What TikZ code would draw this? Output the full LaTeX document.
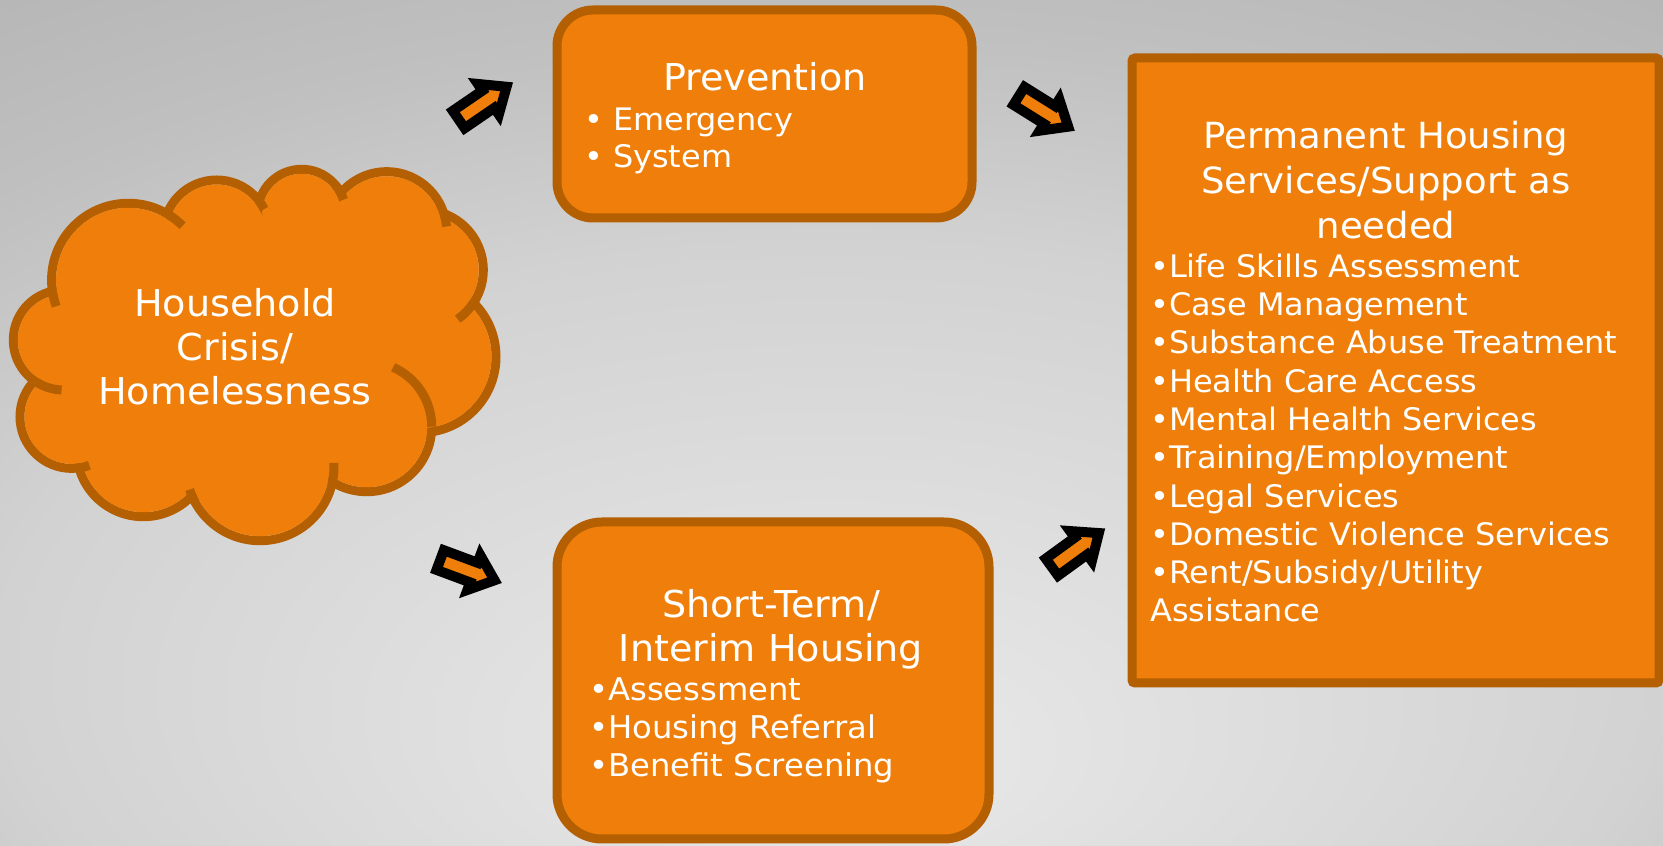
\documentclass[tikz,border=0pt]{standalone}
\usepackage{fontspec}
\setmainfont{DejaVu Sans}[FakeStretch=1.03]
\usetikzlibrary{shapes.arrows}
\definecolor{boxorange}{RGB}{239,127,10}
\definecolor{boxedge}{RGB}{180,95,2}
\definecolor{bgA}{RGB}{234,234,234}
\definecolor{bgB}{RGB}{210,210,210}
\definecolor{bgC}{RGB}{192,192,192}
\definecolor{bgD}{RGB}{172,172,172}
\pgfdeclareradialshading{bgshade}{\pgfpoint{0bp}{-21bp}}{color(0bp)=(bgA); color(25bp)=(bgB); color(35bp)=(bgC); color(52bp)=(bgD); color(80bp)=(bgD)}

\tikzset{
  stagebox/.style={draw=boxedge, fill=boxorange, line width=9pt},
  headtext/.style={text=white, font=\fontsize{37}{44}\selectfont, align=center, anchor=base, inner sep=0pt},
  itemtext/.style={text=white, font=\fontsize{31}{37.5}\selectfont, align=left, anchor=base west, inner sep=0pt},
  blockarrow/.style={single arrow, draw=black, fill=boxorange, line width=10pt,
    minimum height=58pt, single arrow head extend=8pt, single arrow tip angle=80,
    inner xsep=0pt, inner ysep=5.5pt, outer sep=0pt},
  puffline/.style={draw=boxedge, line width=9pt},
}

\begin{document}
\begin{tikzpicture}[x=1pt, y=1pt]
    \useasboundingbox (0,0) rectangle (1663,846);
    \shade[shading=bgshade] (0,0) rectangle (1663,846);

    % cloud: puffs stroked, then filled slightly smaller
    \foreach \cx/\cy/\r in {128.3/566/76.7, 216.7/612.7/53.3, 301.7/632.7/44, 386.7/614.3/60,
        423.3/576/60, 420/489.3/76, 366.7/419.3/65, 260/379.3/74, 143.3/396/66.7,
        71.7/429.3/51.7, 63.3/506/50}
        \draw[puffline] (\cx,\cy) circle[radius=\r];
    \foreach \cx/\cy/\r in {128.3/566/76.7, 216.7/612.7/53.3, 301.7/632.7/44, 386.7/614.3/60,
        423.3/576/60, 420/489.3/76, 366.7/419.3/65, 260/379.3/74, 143.3/396/66.7,
        71.7/429.3/51.7, 63.3/506/50}
        \fill[boxorange] (\cx,\cy) circle[radius=\r-4.5];
    \fill[boxorange] (128.3,566) -- (216.7,612.7) -- (301.7,632.7) -- (386.7,614.3) -- (423.3,576)
        -- (420,489.3) -- (366.7,419.3) -- (260,379.3) -- (143.3,396) -- (71.7,429.3) -- (63.3,506) -- cycle;
    \fill[boxorange] (245,486) circle[radius=140];
    % inner arcs of the cloud
    \foreach \cx/\cy/\r/\a/\b in {128.3/566/76.7/190/200, 128.3/566/76.7/58/45,
        216.7/612.7/53.3/38/27, 301.7/632.7/44/40/18, 386.7/614.3/60/16/5,
        423.3/576/60/-33/-55, 366.7/419.3/65/0/66, 260/379.3/74/-12/3,
        260/379.3/74/198/209, 71.7/429.3/51.7/-85/-70, 63.3/506/50/238/268}
        \draw[puffline] (\cx,\cy) ++(\a:\r) arc[start angle=\a, end angle=\b, radius=\r];
    \node[headtext] (crisis) at (235,441) {Household\\Crisis/\\Homelessness};

    % stage boxes
    \node[stagebox, rounded corners=36pt, minimum width=415pt, minimum height=208pt] (prev) at (764.5,732) {};
    \node[headtext] (prevtitle) at (765,755) {Prevention};
    \node[itemtext] (previtems) at (584,678) {• Emergency\\• System};

    \node[stagebox, rounded corners=45pt, minimum width=432pt, minimum height=317pt] (short) at (773,165.5) {};
    \node[headtext] (shorttitle) at (771,184) {Short-Term/\\Interim Housing};
    \node[itemtext, font=\fontsize{31.3}{38}\selectfont] (shortitems) at (589,69)
        {•Assessment\\•Housing Referral\\•Benefit Screening};

    \node[stagebox, rounded corners=3pt, minimum width=527pt, minimum height=625pt] (perm) at (1395.5,475.5) {};
    \node[headtext, font=\fontsize{36}{45}\selectfont] (permtitle) at (1386,607)
        {Permanent Housing\\Services/Support as\\needed};
    \node[itemtext, font=\fontsize{31}{38.3}\selectfont] (permitems) at (1150,224)
        {•Life Skills Assessment\\•Case Management\\•Substance Abuse Treatment\\•Health Care Access\\
         •Mental Health Services\\•Training/Employment\\•Legal Services\\•Domestic Violence Services\\
         •Rent/Subsidy/Utility\\Assistance};

    % block arrows
    \node[blockarrow, rotate=34.4] (toprev) at (477.5,739.3) {};
    \node[blockarrow, rotate=-20.4] (toshort) at (461.5,278) {};
    \node[blockarrow, rotate=-32] (fromprev) at (1038.3,738) {};
    \node[blockarrow, rotate=36] (fromshort) at (1070.3,292.2) {};
\end{tikzpicture}
\end{document}
